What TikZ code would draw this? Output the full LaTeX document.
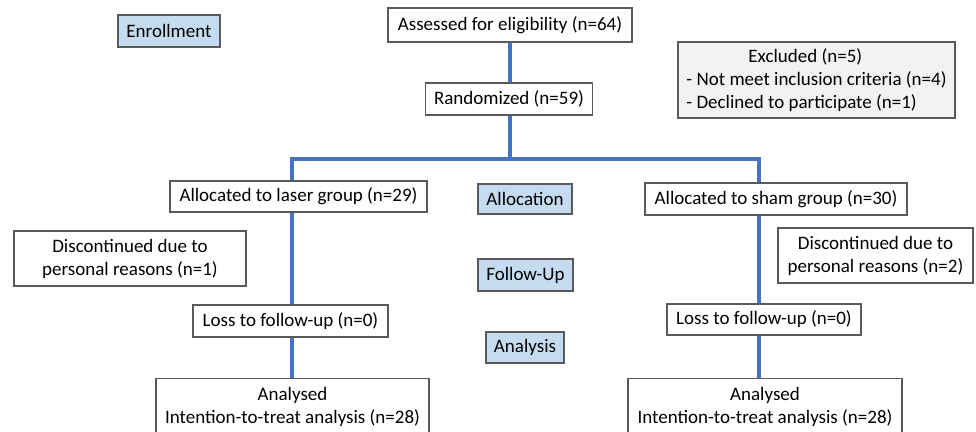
\documentclass[tikz,border=0pt]{standalone}
\usepackage{fontspec}
\setmainfont{Carlito}
\definecolor{flowblue}{HTML}{4472C4}
\definecolor{stagefill}{HTML}{C5DCF0}
\definecolor{exclfill}{HTML}{F2F2F2}
\definecolor{boxline}{HTML}{5A5A5A}
\tikzset{
  box/.style={draw=boxline, line width=1.3pt, fill=white, inner sep=0pt, align=center,
    font=\fontsize{19}{23}\selectfont},
  stage/.style={box, fill=stagefill},
  flow/.style={draw=flowblue, line width=3.4pt}
}
\begin{document}
\begin{tikzpicture}[x=1pt,y=-1pt]
\useasboundingbox (0,0) rectangle (976,431);
\clip (0,0) rectangle (976,431);
% stage labels
\node[stage, minimum width=102, minimum height=32] (enroll) at (169,31) {Enrollment};
\node[stage, minimum width=94, minimum height=30] (alloc) at (525,199) {Allocation};
\node[stage, minimum width=95, minimum height=32] (follow) at (525.5,275) {Follow-Up};
\node[stage, minimum width=78, minimum height=31] (analysis) at (525,347.5) {Analysis};
% main boxes
\node[box, minimum width=244, minimum height=34] (assess) at (510,25) {Assessed for eligibility (n=64)};
\node[box, fill=exclfill, minimum width=277, minimum height=76, align=left] (excl) at (816.5,80)
  {\hspace*{62pt}Excluded (n=5)\\- Not meet inclusion criteria (n=4)\\- Declined to participate (n=1)};
\node[box, minimum width=167, minimum height=32] (rand) at (509,99) {Randomized (n=59)};
\node[box, minimum width=257, minimum height=31] (laser) at (298.5,196.5) {Allocated to laser group (n=29)};
\node[box, minimum width=262, minimum height=32] (sham) at (776,199) {Allocated to sham group (n=30)};
\node[box, minimum width=232, minimum height=55] (discL) at (130,258.5) {Discontinued due to\\personal reasons (n=1)};
\node[box, minimum width=195, minimum height=55] (discR) at (875.5,255.5) {Discontinued due to\\personal reasons (n=2)};
\node[box, minimum width=195, minimum height=32] (lossL) at (290.5,321) {Loss to follow-up (n=0)};
\node[box, minimum width=194, minimum height=31] (lossR) at (764,319.5) {Loss to follow-up (n=0)};
\node[box, anchor=north, minimum width=273, minimum height=56] (anL) at (292.5,378)
  {Analysed\\Intention-to-treat analysis (n=28)};
\node[box, anchor=north, minimum width=274, minimum height=56] (anR) at (765,378)
  {Analysed\\Intention-to-treat analysis (n=28)};
% split coordinates
\coordinate (hl) at (292,159);
\coordinate (hm) at (510,159);
\coordinate (hr) at (759,159);
% connectors
\draw[flow] (assess.south -| hm) -- (rand.north -| hm);
\draw[flow] (rand.south -| hm) -- (hm);
\draw[flow] (laser.north -| hl) -- (hl) -- (hr) -- (sham.north -| hr);
\draw[flow] (laser.south -| hl) -- (lossL.north -| hl);
\draw[flow] (lossL.south -| hl) -- (anL.north -| hl);
\draw[flow] (sham.south -| hr) -- (lossR.north -| hr);
\draw[flow] (lossR.south -| hr) -- (anR.north -| hr);
\end{tikzpicture}
\end{document}
